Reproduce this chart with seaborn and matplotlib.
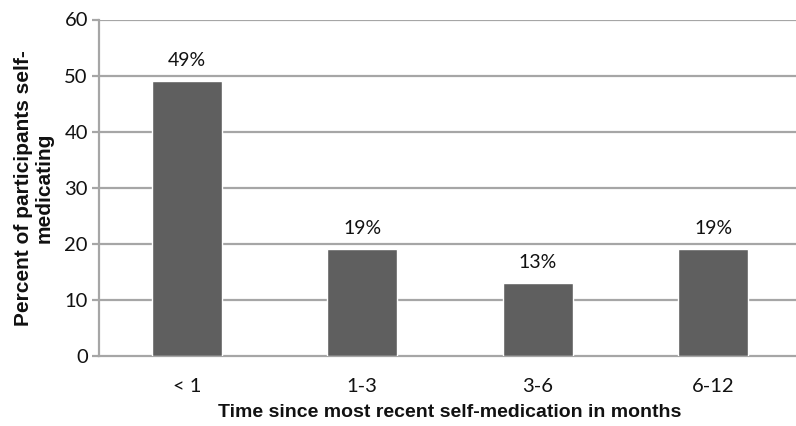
import matplotlib
matplotlib.use("Agg")
import matplotlib.pyplot as plt
import seaborn as sns
import pandas as pd

categories = ["< 1", "1-3", "3-6", "6-12"]
percents = [49, 19, 13, 19]
y_ticks = [0, 10, 20, 30, 40, 50, 60]

df = pd.DataFrame({"period": categories, "percent": percents})

sns.set_theme(style="white")
plt.rcParams["font.family"] = ["Lato", "DejaVu Sans"]

fig = plt.figure(figsize=(7.96, 4.26), dpi=100)
ax = fig.add_axes([99 / 796, 70 / 426, 702 / 796, 336.5 / 426])

grid_color = "#a6a6a6"
sns.barplot(data=df, x="period", y="percent", color="#5f5f5f", width=0.4,
            saturation=1, ax=ax, zorder=3)

ax.set_ylim(0, 60)
ax.set_xlim(-0.5, len(categories) - 0.5)
ax.set_yticks(y_ticks)
for t in y_ticks[1:]:
    ax.axhline(t, color=grid_color, lw=1.6, zorder=1)

for sp in ["top", "right"]:
    ax.spines[sp].set_visible(False)
for sp in ["left", "bottom"]:
    ax.spines[sp].set_color(grid_color)
    ax.spines[sp].set_linewidth(1.6)

ax.tick_params(axis="y", which="major", left=True, length=5, width=1.6,
               color=grid_color, labelsize=14.5, pad=3, labelcolor="#111111")
ax.tick_params(axis="x", bottom=False, labelsize=14.5, pad=10, labelcolor="#111111")

for i, v in enumerate(percents):
    ax.annotate(f"{v}%", xy=(i, v), xytext=(0, 9), textcoords="offset points",
                ha="center", va="bottom", fontsize=14, color="#111111")

ax.set_xlabel("Time since most recent self-medication in months",
              fontfamily="Liberation Sans", fontweight="bold", fontsize=14,
              labelpad=6, color="#111111")
ax.set_ylabel("Percent of participants self-\nmedicating",
              fontfamily="Liberation Sans", fontweight="bold", fontsize=15,
              labelpad=8, color="#111111", linespacing=1.1)

fig.savefig("out.png", dpi=100)
